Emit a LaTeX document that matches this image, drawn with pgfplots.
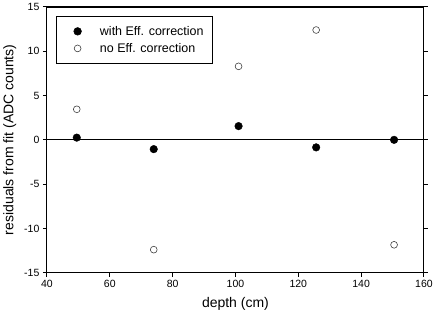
\documentclass[border=0pt]{standalone}
\usepackage{pgfplots}
\pgfplotsset{compat=1.18}
\usepackage{fontspec}
\setmainfont{Liberation Sans}
\pgfplotsset{myleg/.style={legend image code/.code={\path (-14bp,0) (0bp,0); \draw[##1] plot coordinates {(0bp,0bp)};}}}
\begin{document}
\begin{tikzpicture}
\begin{axis}[
  scale only axis,
  width=376bp, height=265bp,
  xmin=40, xmax=160, ymin=-15, ymax=15,
  xtick={40,60,...,160}, ytick={-15,-10,...,15},
  tick align=outside, xtick pos=bottom, ytick pos=both,
  major tick length=4bp,
  axis line style={line width=1.1pt},
  every tick/.style={black, line width=1pt},
  /pgf/number format/assume math mode=true,
  ticklabel style={font=\fontsize{10.5}{12}\selectfont},
  xlabel={depth (cm)}, ylabel={residuals from fit (ADC counts)},
  label style={font=\fontsize{14}{16}\selectfont},
  xlabel style={yshift=-3bp},
  ylabel style={yshift=1bp},
  legend style={at={(0.024,0.967)}, anchor=north west, draw=black, line width=0.6pt,
    font=\fontsize{12.5}{14}\selectfont, inner xsep=7bp, inner ysep=8.5bp,
    row sep=3.5bp, nodes={inner sep=1.5bp},
    /tikz/every odd column/.append style={column sep=17bp}},
  legend cell align=left,
  clip=false,
]
\addplot[black, line width=0.9pt, forget plot] coordinates {(40,0) (160,0)};
\addplot[only marks, mark=*, mark size=3.8bp, black, myleg] coordinates {
(49.5,0.25) (74,-1.05) (101,1.55) (125.7,-0.85) (150.5,0.0)};
\addlegendentry{with Eff. correction}
\addplot[only marks, mark=o, mark size=3.4bp, black!75, mark options={line width=0.6pt}, myleg] coordinates {
(49.5,3.45) (74,-12.4) (101,8.3) (125.7,12.4) (150.5,-11.85)};
\addlegendentry{no Eff. correction}
\end{axis}
\end{tikzpicture}
\end{document}
